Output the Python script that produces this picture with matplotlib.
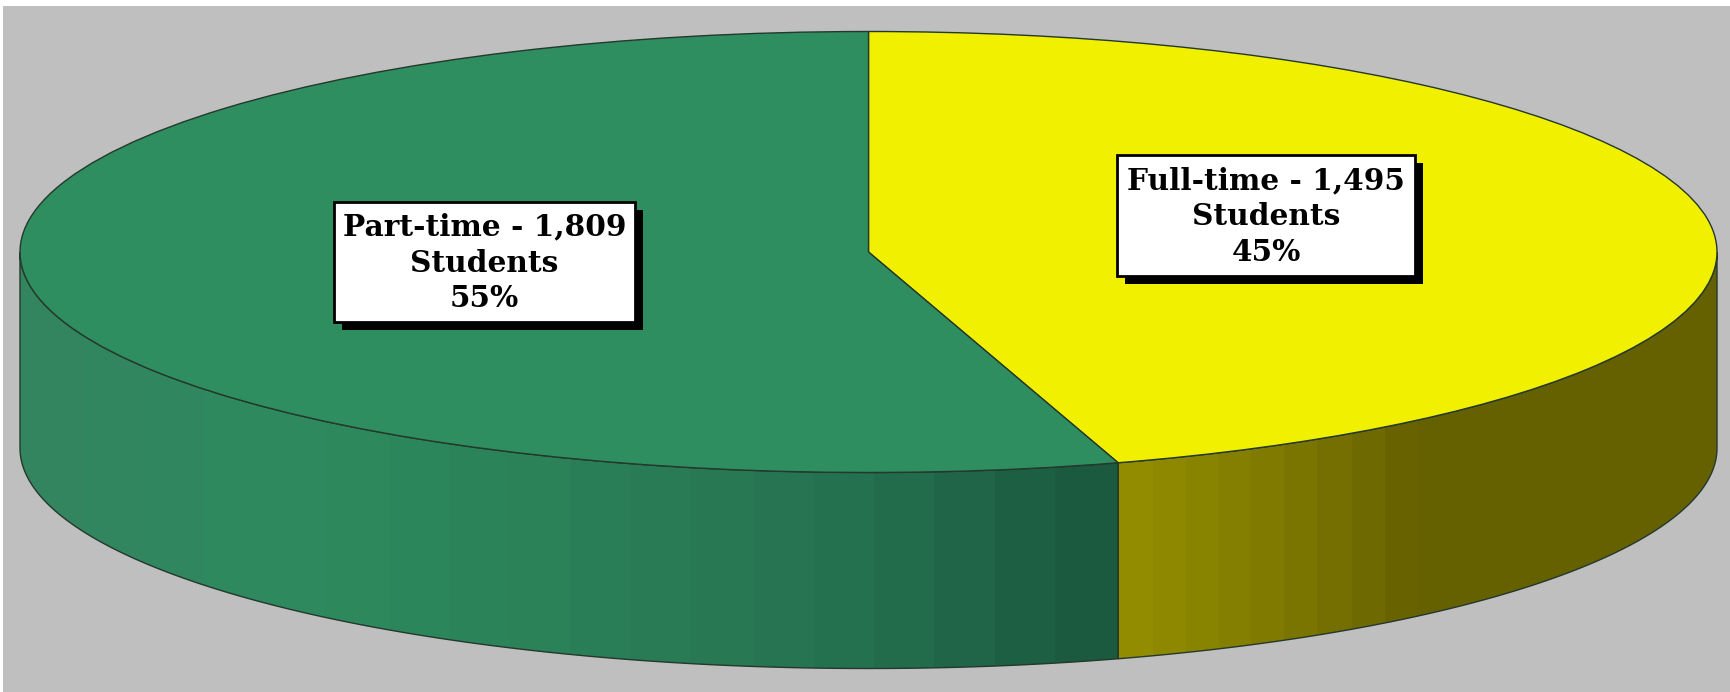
import numpy as np
import matplotlib
matplotlib.use("Agg")
import matplotlib.pyplot as plt
from matplotlib.colors import LinearSegmentedColormap
from matplotlib.patches import PathPatch, Rectangle
from matplotlib.path import Path

categories = ["Full-time", "Part-time"]
students = [1495, 1809]
percent_labels = ["45%", "55%"]
top_colors = ["#F0F000", "#2E8E5F"]

W, H = 1731, 692
CX, CY, RX, RY = 868.5, 252.0, 848.5, 220.5
DEPTH = 196.0 / RY
EDGE = "#24382c"

def dx(px):
    return (px - CX) / RX

def dy(py):
    return (CY - py) / RY

fig = plt.figure(figsize=(W / 100, H / 100), dpi=100, facecolor="white")
ax = fig.add_axes([0, 0, 1, 1])
ax.add_patch(Rectangle((dx(3), dy(H)), dx(W) - dx(3), dy(6) - dy(H),
                       fc="#BFBFBF", ec="none", zorder=0))

# seam angle on the front of the pie, measured clockwise from 12 o'clock
seam = 2 * np.pi * students[0] / sum(students)

def side(theta0, theta1, stops, xrange):
    th = np.linspace(theta0, theta1, 200)
    xs, ys = np.sin(th), np.cos(th)
    verts = np.vstack([np.c_[xs, ys], np.c_[xs[::-1], ys[::-1] - DEPTH], [[xs[0], ys[0]]]])
    codes = [Path.MOVETO] + [Path.LINETO] * (len(verts) - 2) + [Path.CLOSEPOLY]
    path = Path(verts, codes)
    patch = PathPatch(path, fc="none", ec=EDGE, lw=1.0, zorder=2)
    ax.add_patch(patch)
    cmap = LinearSegmentedColormap.from_list("side", stops, N=18)
    grad = np.linspace(0, 1, 256)[None, :]
    im = ax.imshow(grad, extent=[xrange[0], xrange[1], -2, 2], cmap=cmap,
                   aspect="auto", zorder=1, interpolation="nearest")
    im.set_clip_path(PathPatch(path, transform=ax.transData))

# right side: olive, from the seam round to the right extreme
side(seam, np.pi / 2, [(0, "#928D00"), (0.25, "#7F7A00"), (0.49, "#666100"), (1, "#666100")],
     (np.sin(seam), 1))
# left side: green, from the left extreme round to the seam
side(seam, 3 * np.pi / 2,
     [(0, "#1B5A3E"), (0.07, "#1E6044"), (0.2, "#246F4E"), (0.45, "#2A7E57"), (0.75, "#2E8B5E"), (1, "#338560")],
     (np.sin(seam), -1))

ax.pie(students, colors=top_colors, startangle=90, counterclock=False, radius=1,
       wedgeprops=dict(edgecolor=EDGE, linewidth=1.0, zorder=3))
ax.set_aspect("auto")
ax.set_xlim(dx(0), dx(W))
ax.set_ylim(dy(H), dy(0))
ax.axis("off")

boxes = [(1117, 155, 1415, 276), (334, 202, 635, 322)]
for cat, n, pct, (x0, y0, x1, y1) in zip(categories, students, percent_labels, boxes):
    ax.add_patch(Rectangle((dx(x0 + 8), dy(y1 + 8)), dx(x1 + 8) - dx(x0 + 8), dy(y0 + 8) - dy(y1 + 8),
                           fc="black", ec="none", zorder=5))
    ax.add_patch(Rectangle((dx(x0), dy(y1)), dx(x1) - dx(x0), dy(y0) - dy(y1),
                           fc="white", ec="black", lw=2.0, zorder=6))
    ax.text(dx((x0 + x1) / 2), dy((y0 + y1) / 2 + 1), f"{cat} - {n:,}\nStudents\n{pct}",
            ha="center", va="center", ma="center", family="DejaVu Serif", weight="bold",
            fontsize=21.3, linespacing=1.3, color="black", zorder=7)

fig.savefig("out.png", dpi=100, facecolor="white")
